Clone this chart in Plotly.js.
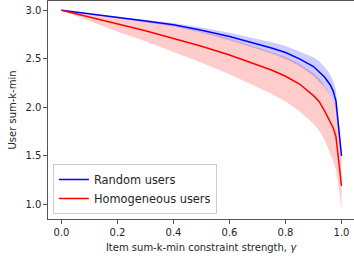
<!DOCTYPE html>
<html>
<head>
<meta charset="utf-8">
<script src="https://cdn.plot.ly/plotly-3.0.1.min.js"></script>
<style>html,body{margin:0;padding:0;background:#fff;}#chart{width:354px;height:261px;}</style>
</head>
<body>
<div id="chart"></div>
<script>
var gamma = [0, 0.1, 0.2, 0.3, 0.4, 0.5, 0.6, 0.7, 0.75, 0.8, 0.85, 0.9, 0.92, 0.94, 0.96, 0.97, 0.98, 0.99, 1.0];

var randomMean  = [3.0, 2.965, 2.93, 2.89, 2.85, 2.795, 2.73, 2.655, 2.612, 2.565, 2.50, 2.42, 2.37, 2.31, 2.23, 2.17, 2.07, 1.79, 1.50];
var randomLower = [3.0, 2.961, 2.922, 2.878, 2.832, 2.768, 2.692, 2.605, 2.554, 2.499, 2.425, 2.325, 2.265, 2.205, 2.125, 2.065, 1.965, 1.71, 1.45];
var randomUpper = [3.0, 2.969, 2.938, 2.902, 2.868, 2.822, 2.768, 2.705, 2.670, 2.631, 2.575, 2.515, 2.475, 2.415, 2.335, 2.275, 2.175, 1.87, 1.55];

var homoMean  = [3.0, 2.93, 2.86, 2.79, 2.71, 2.63, 2.54, 2.44, 2.385, 2.32, 2.24, 2.12, 2.06, 1.96, 1.85, 1.79, 1.70, 1.46, 1.19];
var homoLower = [3.0, 2.89, 2.78, 2.68, 2.57, 2.46, 2.34, 2.21, 2.14, 2.06, 1.96, 1.83, 1.76, 1.66, 1.53, 1.45, 1.36, 1.18, 0.94];
var homoUpper = [3.0, 2.965, 2.93, 2.89, 2.84, 2.78, 2.71, 2.62, 2.57, 2.52, 2.45, 2.35, 2.30, 2.22, 2.13, 2.07, 1.99, 1.75, 1.45];

var seriesNames = ["Random users", "Homogeneous users"];
var xTicks = [0, 0.2, 0.4, 0.6, 0.8, 1.0];
var yTicks = [1.0, 1.5, 2.0, 2.5, 3.0];

function band(lower, upper, fillColor) {
  return [
    {x: gamma, y: lower, mode: 'lines', line: {width: 0}, showlegend: false, hoverinfo: 'skip'},
    {x: gamma, y: upper, mode: 'lines', line: {width: 0}, fill: 'tonexty', fillcolor: fillColor, showlegend: false, hoverinfo: 'skip'}
  ];
}

var traces = []
  .concat(band(homoLower, homoUpper, 'rgba(255,0,0,0.2)'))
  .concat(band(randomLower, randomUpper, 'rgba(0,0,255,0.2)'))
  .concat([
    {x: gamma, y: randomMean, mode: 'lines', name: seriesNames[0], line: {color: '#0000ff', width: 1.5}},
    {x: gamma, y: homoMean, mode: 'lines', name: seriesNames[1], line: {color: '#ff0000', width: 1.5}}
  ]);

var font = {family: 'DejaVu Sans, sans-serif', size: 10, color: '#262626'};

var layout = {
  width: 354, height: 261,
  margin: {l: 48, r: 0, t: 1, b: 42, pad: 0},
  paper_bgcolor: '#fff', plot_bgcolor: '#fff',
  font: font,
  showlegend: true,
  legend: {
    x: 0.016, y: 0.023, xanchor: 'left', yanchor: 'bottom',
    traceorder: 'normal',
    bgcolor: 'rgba(255,255,255,0.8)', bordercolor: '#cccccc', borderwidth: 1,
    font: {family: 'DejaVu Sans, sans-serif', size: 11.4, color: '#262626'},
    tracegroupgap: 0, itemwidth: 30
  },
  xaxis: {
    range: [-0.0482, 1.0446],
    tickvals: xTicks, tickformat: '.1f',
    ticks: 'outside', ticklen: 3.5, tickwidth: 1, tickcolor: '#555',
    showgrid: false, zeroline: false,
    showline: true, linecolor: '#555', linewidth: 1.2, mirror: true,
    tickfont: font,
    title: {text: 'Item sum-k-min constraint strength, <i>γ</i>', font: font, standoff: 7}
  },
  yaxis: {
    range: [0.8485, 3.096],
    tickvals: yTicks, tickformat: '.1f',
    ticks: 'outside', ticklen: 3.5, tickwidth: 1, tickcolor: '#555',
    showgrid: false, zeroline: false,
    showline: true, linecolor: '#555', linewidth: 1.2, mirror: true,
    tickfont: font,
    title: {text: 'User sum-k-min', font: font, standoff: 6}
  }
};

Plotly.newPlot('chart', traces, layout, {displayModeBar: false, staticPlot: true});
</script>
</body>
</html>
